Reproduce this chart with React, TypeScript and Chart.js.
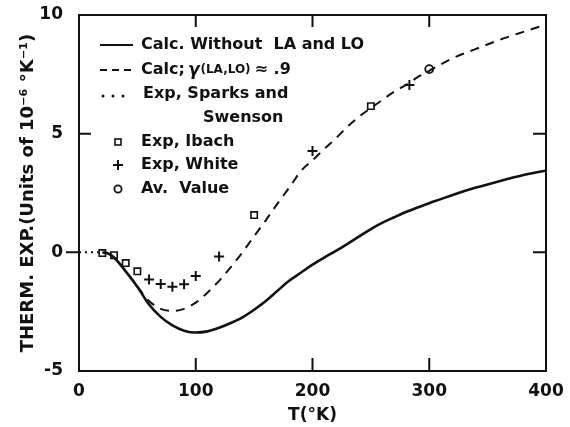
import React, { useEffect, useRef } from 'react';
import { Chart, registerables } from 'chart.js';

Chart.register(...registerables);

const FONT = '"DejaVu Sans", sans-serif';
const INK = '#111';

// Calc. without LA and LO (solid)
const T_SOLID = [20, 25, 30, 40, 50, 60, 70, 80, 90, 100, 110, 120, 130, 140, 150, 160, 170, 180, 190, 200, 210, 220, 230, 240, 250, 260, 270, 280, 290, 300, 320, 340, 360, 380, 400];
const Y_SOLID = [0, -0.05, -0.22, -0.8, -1.45, -2.2, -2.72, -3.08, -3.3, -3.38, -3.33, -3.18, -2.98, -2.74, -2.42, -2.05, -1.62, -1.2, -0.86, -0.52, -0.22, 0.06, 0.36, 0.67, 0.98, 1.25, 1.48, 1.7, 1.89, 2.07, 2.42, 2.73, 3.0, 3.25, 3.45];

// Calc; gamma(LA,LO) ~ .9 (dashed)
const T_DASH = [50, 60, 70, 80, 90, 100, 110, 120, 130, 140, 150, 160, 170, 180, 190, 200, 210, 220, 230, 240, 250, 260, 270, 280, 290, 300, 320, 340, 360, 380, 400];
const Y_DASH = [-1.45, -2.05, -2.38, -2.47, -2.38, -2.12, -1.7, -1.2, -0.62, 0.0, 0.68, 1.35, 2.05, 2.72, 3.42, 3.88, 4.35, 4.8, 5.3, 5.72, 6.08, 6.43, 6.77, 7.05, 7.38, 7.65, 8.18, 8.57, 8.95, 9.28, 9.6];

// Exp, Sparks and Swenson (dotted)
const T_SPARKS = [0, 20];
const Y_SPARKS = [0, 0];

// Exp, Ibach (squares)
const T_IBACH = [20, 30, 40, 50, 150, 250];
const Y_IBACH = [-0.03, -0.12, -0.45, -0.8, 1.57, 6.16];

// Exp, White (crosses)
const T_WHITE = [60, 70, 80, 90, 100, 120, 200, 283];
const Y_WHITE = [-1.14, -1.33, -1.45, -1.35, -1.0, -0.18, 4.27, 7.05];

// Av. Value (circle)
const T_AV = [300];
const Y_AV = [7.72];

const X_TICKS = [0, 100, 200, 300, 400];
const Y_TICKS = [-5, 0, 5, 10];
const X_TITLE = 'T(°K)';
const Y_TITLE = 'THERM. EXP.(Units of 10⁻⁶ °K⁻¹)';

const pts = (xs: number[], ys: number[]) => xs.map((x, i) => ({ x, y: ys[i] }));

const framePlugin = {
  id: 'frame',
  afterDraw(chart: any) {
    const { ctx, chartArea: a, scales } = chart;
    const xs = scales.x;
    const ys = scales.y;
    ctx.save();
    ctx.strokeStyle = INK;
    ctx.lineWidth = 2;
    ctx.strokeRect(a.left, a.top, a.right - a.left, a.bottom - a.top);
    ctx.beginPath();
    [100, 200, 300].forEach((v) => {
      const px = xs.getPixelForValue(v);
      ctx.moveTo(px, a.bottom);
      ctx.lineTo(px, a.bottom - 13);
      ctx.moveTo(px, a.top);
      ctx.lineTo(px, a.top + 12);
    });
    const y5 = ys.getPixelForValue(5);
    const y0 = ys.getPixelForValue(0);
    ctx.moveTo(a.left, y5);
    ctx.lineTo(a.left + 12, y5);
    ctx.moveTo(a.left, y0);
    ctx.lineTo(a.left - 13, y0);
    ctx.moveTo(a.right, y5);
    ctx.lineTo(a.right - 13, y5);
    ctx.moveTo(a.right, y0);
    ctx.lineTo(a.right - 13, y0);
    ctx.stroke();
    ctx.restore();
  },
};

const legendPlugin = {
  id: 'customLegend',
  afterDraw(chart: any) {
    const { ctx } = chart;
    ctx.save();
    ctx.fillStyle = INK;
    ctx.strokeStyle = INK;
    ctx.textBaseline = 'middle';
    ctx.textAlign = 'left';
    const f = (s: number, style = '') => `${style} bold ${s}px ${FONT}`;
    const tx = 141;
    const rows = [45, 70, 94, 118, 142, 165, 189];

    // row 1: solid
    ctx.lineWidth = 2.2;
    ctx.setLineDash([]);
    ctx.beginPath();
    ctx.moveTo(100, rows[0]);
    ctx.lineTo(133, rows[0]);
    ctx.stroke();
    ctx.font = f(16);
    ctx.fillText('Calc. Without  LA and LO', tx, rows[0]);

    // row 2: dashed
    ctx.lineWidth = 2;
    ctx.setLineDash([7, 5]);
    ctx.beginPath();
    ctx.moveTo(100, rows[1]);
    ctx.lineTo(134, rows[1]);
    ctx.stroke();
    ctx.setLineDash([]);
    let x = tx;
    ctx.font = f(16);
    ctx.fillText('Calc;', x, rows[1]);
    x += ctx.measureText('Calc;').width + 3;
    ctx.font = f(17, 'italic');
    ctx.fillText('γ', x, rows[1] + 1);
    x += ctx.measureText('γ').width + 1;
    ctx.font = f(12);
    ctx.fillText('(LA,LO)', x, rows[1]);
    x += ctx.measureText('(LA,LO)').width + 4;
    ctx.font = f(16);
    ctx.fillText('≈ .9', x, rows[1]);

    // row 3: dotted
    [103, 113, 123].forEach((dx) => {
      ctx.beginPath();
      ctx.arc(dx, rows[2] + 2, 1.5, 0, Math.PI * 2);
      ctx.fill();
    });
    ctx.font = f(16);
    ctx.fillText('Exp, Sparks and', tx + 2, rows[2]);
    ctx.fillText('Swenson', 203, rows[3]);

    // row 5: square
    ctx.lineWidth = 1.6;
    ctx.strokeRect(115, rows[4] - 3, 6, 6);
    ctx.fillText('Exp, Ibach', tx, rows[4]);

    // row 6: cross
    ctx.lineWidth = 2;
    ctx.beginPath();
    ctx.moveTo(113, rows[5]);
    ctx.lineTo(123, rows[5]);
    ctx.moveTo(118, rows[5] - 5);
    ctx.lineTo(118, rows[5] + 5);
    ctx.stroke();
    ctx.fillText('Exp, White', tx, rows[5]);

    // row 7: circle
    ctx.lineWidth = 1.8;
    ctx.beginPath();
    ctx.arc(118, rows[6], 3.6, 0, Math.PI * 2);
    ctx.stroke();
    ctx.fillText('Av.  Value', tx, rows[6]);
    ctx.restore();
  },
};

export default function App() {
  const ref = useRef<HTMLCanvasElement>(null);
  useEffect(() => {
    const canvas = ref.current;
    if (!canvas) return;
    const chart = new Chart(canvas, {
      type: 'line',
      data: {
        datasets: [
          {
            label: 'Calc. Without LA and LO',
            data: pts(T_SOLID, Y_SOLID),
            borderColor: INK,
            borderWidth: 2.6,
            pointRadius: 0,
            cubicInterpolationMode: 'monotone',
            fill: false,
          },
          {
            label: 'Calc; γ(LA,LO) ≈ .9',
            data: pts(T_DASH, Y_DASH),
            borderColor: INK,
            borderWidth: 2,
            borderDash: [9, 7],
            pointRadius: 0,
            cubicInterpolationMode: 'monotone',
            fill: false,
          },
          {
            label: 'Exp, Sparks and Swenson',
            data: pts(T_SPARKS, Y_SPARKS),
            borderColor: INK,
            borderWidth: 2,
            borderDash: [2, 4],
            pointRadius: 0,
            fill: false,
          },
          {
            label: 'Exp, Ibach',
            data: pts(T_IBACH, Y_IBACH),
            showLine: false,
            pointStyle: 'rect',
            pointRadius: 4.5,
            pointBorderWidth: 1.6,
            pointBorderColor: INK,
            pointBackgroundColor: '#fff',
          },
          {
            label: 'Exp, White',
            data: pts(T_WHITE, Y_WHITE),
            showLine: false,
            pointStyle: 'cross',
            pointRadius: 5,
            pointBorderWidth: 2,
            pointBorderColor: INK,
          },
          {
            label: 'Av. Value',
            data: pts(T_AV, Y_AV),
            showLine: false,
            pointStyle: 'circle',
            pointRadius: 4,
            pointBorderWidth: 1.8,
            pointBorderColor: INK,
            pointBackgroundColor: '#fff',
          },
        ],
      },
      options: {
        responsive: false,
        animation: false,
        devicePixelRatio: 1,
        layout: { padding: { top: 15, right: 24, left: 0, bottom: 0 } },
        plugins: {
          legend: { display: false },
          tooltip: { enabled: false },
        },
        scales: {
          x: {
            type: 'linear',
            min: 0,
            max: 400,
            afterBuildTicks: (s: any) => {
              s.ticks = X_TICKS.map((v) => ({ value: v }));
            },
            afterFit: (s: any) => {
              s.height = 56;
              s.paddingLeft = 0;
              s.paddingRight = 0;
            },
            grid: { display: false, drawTicks: false },
            border: { display: false },
            ticks: {
              color: INK,
              padding: 10,
              maxRotation: 0,
              font: { family: FONT, size: 17, weight: 'bold' },
            },
            title: {
              display: true,
              text: X_TITLE,
              color: INK,
              font: { family: FONT, size: 17, weight: 'bold' },
              padding: { top: 0, bottom: 1 },
            },
          },
          y: {
            type: 'linear',
            min: -5,
            max: 10,
            afterBuildTicks: (s: any) => {
              s.ticks = Y_TICKS.map((v) => ({ value: v }));
            },
            afterFit: (s: any) => {
              s.width = 79;
              s.paddingTop = 0;
              s.paddingBottom = 0;
            },
            grid: { display: false, drawTicks: false },
            border: { display: false },
            ticks: {
              color: INK,
              padding: 16,
              font: { family: FONT, size: 17, weight: 'bold' },
            },
            title: {
              display: true,
              text: Y_TITLE,
              color: INK,
              font: { family: FONT, size: 18, weight: 'bold' },
              padding: { top: 18, bottom: 0 },
            },
          },
        },
      },
      plugins: [framePlugin, legendPlugin],
    } as any);
    return () => chart.destroy();
  }, []);

  return (
    <div style={{ position: 'fixed', left: 0, top: 0, width: 570, height: 427, background: '#fff' }}>
      <canvas ref={ref} width={570} height={427} style={{ width: 570, height: 427, display: 'block' }} />
    </div>
  );
}
